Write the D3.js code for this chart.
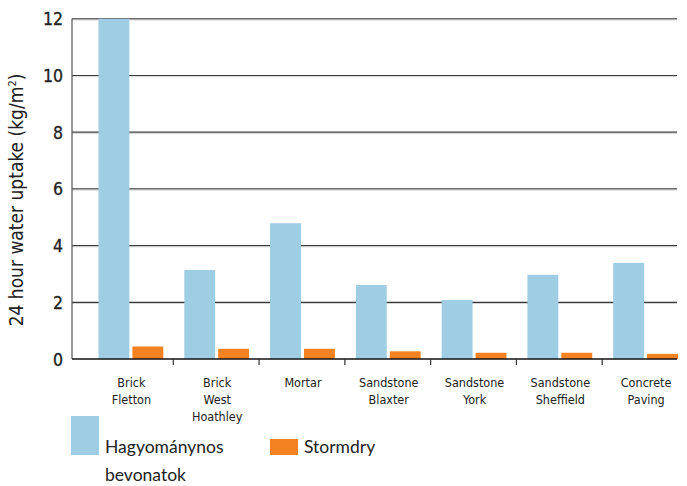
<!DOCTYPE html>
<html>
<head>
<meta charset="utf-8">
<script src="https://cdn.jsdelivr.net/npm/d3@7"></script>
<style>
  body { margin: 0; background: #fff; }
  svg text { fill: #222; }
  .cond { font-family: "DejaVu Sans Condensed", "DejaVu Sans", sans-serif; font-stretch: condensed; }
  .tick-y { font-size: 17.5px; }
  .cat { font-size: 12.5px; }
  .ytitle { font-size: 19px; }
  .legend { font-family: Lato, "Open Sans", sans-serif; font-size: 17.5px; }
</style>
</head>
<body>
<div id="chart"></div>
<script>
var categories = [
  ["Brick", "Fletton"],
  ["Brick", "West", "Hoathley"],
  ["Mortar"],
  ["Sandstone", "Blaxter"],
  ["Sandstone", "York"],
  ["Sandstone", "Sheffield"],
  ["Concrete", "Paving"]
];
var traditional = [12, 3.14, 4.79, 2.61, 2.08, 2.97, 3.39];
var stormdry = [0.44, 0.36, 0.36, 0.27, 0.22, 0.22, 0.18];
var seriesNames = ["Hagyománynos", "Stormdry"];
var yTicks = [0, 2, 4, 6, 8, 10, 12];
var colors = ["#9ecde4", "#f58220"];

var width = 687, height = 486;
var svg = d3.select( "#chart" ).append( "svg" )
  .attr( "width", width )
  .attr( "height", height );

var axisX = 72, gridRight = 677;
var y = d3.scaleLinear().domain( [0, 12] ).range( [359, 18.8] );
var x = d3.scaleBand()
  .domain( d3.range( categories.length ) )
  .range( [87.5, 688] );
var inner = d3.scaleBand()
  .domain( [0, 1] )
  .range( [11, x.bandwidth() - 10] )
  .paddingInner( 0.09 );

// gridlines
svg.selectAll( ".grid" )
  .data( yTicks.slice( 1 ) )
  .enter().append( "line" )
  .attr( "x1", axisX ).attr( "x2", gridRight )
  .attr( "y1", function ( d ) { return y( d ); } )
  .attr( "y2", function ( d ) { return y( d ); } )
  .attr( "stroke", "#3a3a3a" )
  .attr( "stroke-width", 1.2 );
svg.selectAll( ".grid2" )
  .data( yTicks.slice( 1 ) )
  .enter().append( "line" )
  .attr( "x1", axisX ).attr( "x2", gridRight )
  .attr( "y1", function ( d ) { return y( d ) + 1.2; } )
  .attr( "y2", function ( d ) { return y( d ) + 1.2; } )
  .attr( "stroke", "#c8c8c8" )
  .attr( "stroke-width", 0.8 );

// bars
var groups = svg.selectAll( ".grp" )
  .data( categories )
  .enter().append( "g" )
  .attr( "transform", function ( d, i ) { return "translate(" + x( i ) + ",0)"; } );

groups.append( "rect" )
  .attr( "x", inner( 0 ) )
  .attr( "width", inner.bandwidth() )
  .attr( "y", function ( d, i ) { return y( traditional[i] ); } )
  .attr( "height", function ( d, i ) { return y( 0 ) - y( traditional[i] ); } )
  .attr( "fill", colors[0] );

groups.append( "rect" )
  .attr( "x", inner( 1 ) )
  .attr( "width", inner.bandwidth() )
  .attr( "y", function ( d, i ) { return y( stormdry[i] ); } )
  .attr( "height", function ( d, i ) { return y( 0 ) - y( stormdry[i] ); } )
  .attr( "fill", colors[1] );

// y axis line
svg.append( "line" )
  .attr( "x1", axisX ).attr( "x2", axisX )
  .attr( "y1", y( 12 ) ).attr( "y2", y( 0 ) )
  .attr( "stroke", "#555" ).attr( "stroke-width", 1.2 );

// x axis line + ticks between groups
svg.append( "line" )
  .attr( "x1", axisX ).attr( "x2", gridRight )
  .attr( "y1", y( 0 ) ).attr( "y2", y( 0 ) )
  .attr( "stroke", "#111" ).attr( "stroke-width", 1.5 );
svg.selectAll( ".xtick" )
  .data( d3.range( 1, categories.length ) )
  .enter().append( "line" )
  .attr( "x1", function ( i ) { return x( i ); } )
  .attr( "x2", function ( i ) { return x( i ); } )
  .attr( "y1", y( 0 ) ).attr( "y2", y( 0 ) + 6 )
  .attr( "stroke", "#333" ).attr( "stroke-width", 1.2 );

// y tick labels
svg.selectAll( ".tick-y" )
  .data( yTicks )
  .enter().append( "text" )
  .attr( "class", "tick-y cond" )
  .attr( "x", 63 )
  .attr( "y", function ( d ) { return y( d ) + 6.5; } )
  .attr( "text-anchor", "end" )
  .attr( "stroke", "#222" ).attr( "stroke-width", 0.3 )
  .text( function ( d ) { return d; } );

// category labels
var cat = svg.selectAll( ".cat" )
  .data( categories )
  .enter().append( "text" )
  .attr( "class", "cat cond" )
  .attr( "text-anchor", "middle" )
  .attr( "x", function ( d, i ) { return x( i ) + x.bandwidth() / 2 + 1; } )
  .attr( "y", 387 );
cat.selectAll( "tspan" )
  .data( function ( d ) { return d; } )
  .enter().append( "tspan" )
  .attr( "x", function () { return d3.select( this.parentNode ).attr( "x" ); } )
  .attr( "dy", function ( d, j ) { return j === 0 ? 0 : 17; } )
  .text( function ( d ) { return d; } );

// y title
var yt = svg.append( "text" )
  .attr( "class", "ytitle cond" )
  .attr( "transform", "translate(23,200) rotate(-90)" )
  .attr( "text-anchor", "middle" );
yt.append( "tspan" ).text( "24 hour water uptake (kg/m" );
yt.append( "tspan" ).attr( "font-size", "11px" ).attr( "dy", -7 ).text( "2" );
yt.append( "tspan" ).attr( "dy", 7 ).text( ")" );

// legend
svg.append( "rect" )
  .attr( "x", 71 ).attr( "y", 416 ).attr( "width", 28 ).attr( "height", 39 )
  .attr( "fill", colors[0] );
var lt = svg.append( "text" ).attr( "class", "legend" ).attr( "x", 105 ).attr( "y", 453 );
lt.append( "tspan" ).attr( "x", 105 ).text( seriesNames[0] );
lt.append( "tspan" ).attr( "x", 105 ).attr( "dy", 28 ).text( "bevonatok" );

svg.append( "rect" )
  .attr( "x", 270 ).attr( "y", 439 ).attr( "width", 28 ).attr( "height", 16 )
  .attr( "fill", colors[1] );
svg.append( "text" ).attr( "class", "legend" ).attr( "x", 304 ).attr( "y", 453 )
  .text( seriesNames[1] );
</script>
</body>
</html>
